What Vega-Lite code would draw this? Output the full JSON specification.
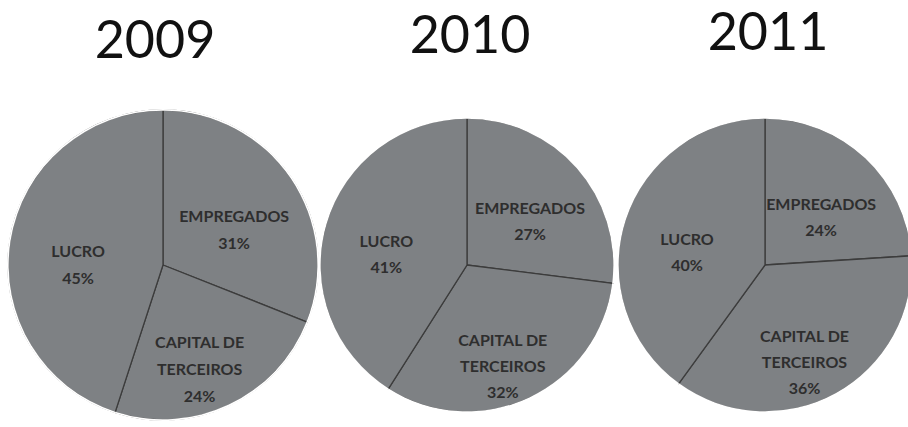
{
  "$schema": "https://vega.github.io/schema/vega-lite/v6.json",
  "background": "white",
  "padding": {"left": 5, "top": 8, "right": 0, "bottom": 0},
  "bounds": "flush",
  "spacing": 0,
  "config": {
    "view": {"stroke": null},
    "title": {"fontSize": 52, "font": "Lato", "fontWeight": "normal", "color": "#111111", "anchor": "middle", "offset": 20}
  },
  "data": {
    "values": [
      {"year": 2009, "category": "EMPREGADOS", "ord": 1, "pct": 31, "label": "EMPREGADOS\n31%"},
      {"year": 2009, "category": "CAPITAL DE TERCEIROS", "ord": 2, "pct": 24, "label": "CAPITAL DE\nTERCEIROS\n24%"},
      {"year": 2009, "category": "LUCRO", "ord": 3, "pct": 45, "label": "LUCRO\n45%"},
      {"year": 2010, "category": "EMPREGADOS", "ord": 1, "pct": 27, "label": "EMPREGADOS\n27%"},
      {"year": 2010, "category": "CAPITAL DE TERCEIROS", "ord": 2, "pct": 32, "label": "CAPITAL DE\nTERCEIROS\n32%"},
      {"year": 2010, "category": "LUCRO", "ord": 3, "pct": 41, "label": "LUCRO\n41%"},
      {"year": 2011, "category": "EMPREGADOS", "ord": 1, "pct": 24, "label": "EMPREGADOS\n24%"},
      {"year": 2011, "category": "CAPITAL DE TERCEIROS", "ord": 2, "pct": 36, "label": "CAPITAL DE\nTERCEIROS\n36%"},
      {"year": 2011, "category": "LUCRO", "ord": 3, "pct": 40, "label": "LUCRO\n40%"}
    ]
  },
  "hconcat": [
    {
      "width": 312, "height": 340,
      "title": {"text": "2009", "dx": -8, "dy": -6},
      "transform": [{"filter": "datum.year == 2009"}],
      "encoding": {
        "theta": {"field": "pct", "type": "quantitative", "stack": true},
        "order": {"field": "ord", "type": "quantitative"}
      },
      "layer": [
        {"mark": {"type": "arc", "outerRadius": 155, "fill": "#7e8184", "stroke": "#3c3c3c", "strokeWidth": 1.3}},
        {"mark": {"type": "arc", "innerRadius": 154.3, "outerRadius": 156, "fill": "white", "strokeWidth": 0}},
        {"mark": {"type": "text", "radius": 86, "font": "Lato", "fontSize": 16, "fontWeight": "bold", "color": "#2e2e2e", "lineBreak": "\n", "lineHeight": 27, "baseline": "middle", "align": "center"},
         "encoding": {"text": {"field": "label", "type": "nominal"}}}
      ]
    },
    {
      "width": 296, "height": 340,
      "title": {"text": "2010", "dx": 3, "dy": -11},
      "transform": [{"filter": "datum.year == 2010"}],
      "encoding": {
        "theta": {"field": "pct", "type": "quantitative", "stack": true},
        "order": {"field": "ord", "type": "quantitative"}
      },
      "layer": [
        {"mark": {"type": "arc", "outerRadius": 147, "fill": "#7e8184", "stroke": "#3c3c3c", "strokeWidth": 1.3}},
        {"mark": {"type": "arc", "innerRadius": 146.3, "outerRadius": 149, "fill": "white", "strokeWidth": 0}},
        {"mark": {"type": "text", "radius": 84, "font": "Lato", "fontSize": 16, "fontWeight": "bold", "color": "#2e2e2e", "lineBreak": "\n", "lineHeight": 26, "baseline": "middle", "align": "center"},
         "encoding": {"text": {"field": "label", "type": "nominal"}}}
      ]
    },
    {
      "width": 300, "height": 340,
      "title": {"text": "2011", "dx": 3, "dy": -14},
      "transform": [{"filter": "datum.year == 2011"}],
      "encoding": {
        "theta": {"field": "pct", "type": "quantitative", "stack": true},
        "order": {"field": "ord", "type": "quantitative"}
      },
      "layer": [
        {"mark": {"type": "arc", "outerRadius": 147, "fill": "#7e8184", "stroke": "#3c3c3c", "strokeWidth": 1.3}},
        {"mark": {"type": "arc", "innerRadius": 146.3, "outerRadius": 149, "fill": "white", "strokeWidth": 0}},
        {"mark": {"type": "text", "radius": 82, "font": "Lato", "fontSize": 16, "fontWeight": "bold", "color": "#2e2e2e", "lineBreak": "\n", "lineHeight": 26, "baseline": "middle", "align": "center"},
         "encoding": {"text": {"field": "label", "type": "nominal"}}}
      ]
    }
  ]
}
